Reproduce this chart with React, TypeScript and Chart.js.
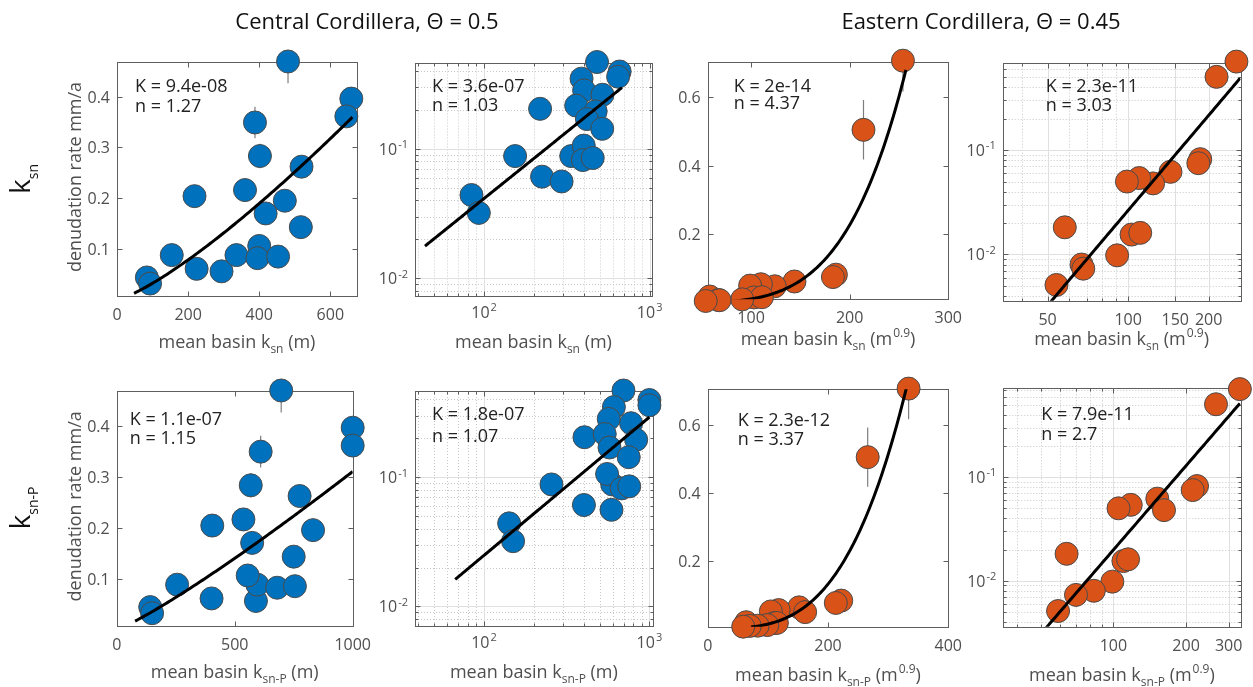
import { useEffect, useRef } from 'react';
import { Chart, registerables } from 'chart.js';

Chart.register(...registerables);

const W = 1253;
const H = 687;
const FONT = '"Open Sans", "Noto Sans", "DejaVu Sans", sans-serif';

// ---- Central Cordillera basins: denudation rate (mm/a) and mean basin steepness ----
const centralRate = [0.469, 0.396, 0.361, 0.349, 0.283, 0.262, 0.204, 0.216, 0.195, 0.17, 0.143, 0.088, 0.061, 0.056, 0.088, 0.106, 0.082, 0.085, 0.044, 0.032];
const centralRateErr = [0.043, 0.012, 0.012, 0.031, 0.024, 0.012, 0.01, 0.014, 0.012, 0.01, 0.01, 0.006, 0.005, 0.004, 0.006, 0.008, 0.006, 0.006, 0.003, 0.003];
const centralKsn = [481, 659, 645, 388, 402, 519, 218, 360, 472, 418, 517, 154, 224, 294, 336, 400, 395, 453, 84, 93];
const centralKsnP = [697, 1000, 1000, 610, 568, 775, 405, 537, 832, 574, 750, 256, 402, 590, 596, 555, 680, 755, 142, 150];

// ---- Eastern Cordillera basins ----
const eastRate = [0.707, 0.505, 0.082, 0.075, 0.062, 0.048, 0.054, 0.05, 0.0155, 0.0161, 0.0182, 0.0098, 0.008, 0.0073, 0.0051];
const eastRateErr = [0.09, 0.087, 0.006, 0.006, 0.005, 0.004, 0.004, 0.004, 0.0012, 0.0013, 0.0015, 0.0008, 0.0006, 0.0006, 0.0004];
const eastKsn = [254, 214, 186, 183, 144, 124, 110, 99, 103, 111, 58, 91, 67, 68, 54];
const eastKsnP = [334, 266, 222, 213, 152, 162, 118, 105, 110, 115, 64, 99, 83, 70, 59];

// ---- power-law fits E = K * ksn^n (E in m/a), one per panel ----
const fitK = [9.4e-8, 3.6e-7, 2e-14, 2.3e-11, 1.1e-7, 1.8e-7, 2.3e-12, 7.9e-11];
const fitN = [1.27, 1.03, 4.37, 3.03, 1.15, 1.07, 3.37, 2.7];
const fitExtent = [[48, 662], [44, 680], [76, 257], [48, 262], [78, 1000], [67, 1000], [72, 330], [50, 334]];

// ---- tick values ----
const ksnTicksCentral = [0, 200, 400, 600];
const ksnPTicksCentral = [0, 500, 1000];
const rateTicksCentral = [0.1, 0.2, 0.3, 0.4];
const decadeTicksX = [100, 1000];
const decadeTicksY = [0.01, 0.1];
const ksnTicksEast = [100, 200, 300];
const ksnPTicksEast = [0, 200, 400];
const rateTicksEast = [0.2, 0.4, 0.6];
const ksnLogTicksEast = [50, 100, 150, 200];
const ksnPLogTicksEast = [100, 200, 300];

const columnTitles = ['Central Cordillera, \u0398 = 0.5', 'Eastern Cordillera, \u0398 = 0.45'];

type Seg = { t: string; k?: 'sub' | 'sup' };

const BLUE = '#0072BD';
const ORANGE = '#D95319';

const titleCentralKsn: Seg[] = [{ t: 'mean basin k' }, { t: 'sn', k: 'sub' }, { t: ' (m)' }];
const titleCentralKsnP: Seg[] = [{ t: 'mean basin k' }, { t: 'sn-P', k: 'sub' }, { t: ' (m)' }];
const titleEastKsn: Seg[] = [{ t: 'mean basin k' }, { t: 'sn', k: 'sub' }, { t: ' (m' }, { t: '0.9', k: 'sup' }, { t: ')' }];
const titleEastKsnP: Seg[] = [{ t: 'mean basin k' }, { t: 'sn-P', k: 'sub' }, { t: ' (m' }, { t: '0.9', k: 'sup' }, { t: ')' }];

interface PanelSpec {
  xs: number[];
  ys: number[];
  errs: number[];
  fill: string;
  K: number;
  n: number;
  fit: number[];
  log: boolean;
  xRange: number[];
  yRange: number[];
  xTicks: number[];
  yTicks: number[];
  xPow: boolean;
  yPow: boolean;
  area: number[];
  note: number[];
  xTitle: Seg[];
  xTitleBase: number;
  yTitle?: string;
  rowLabel?: Seg[];
  rowLabelY?: number;
}

const panels: PanelSpec[] = [
  {
    xs: centralKsn, ys: centralRate, errs: centralRateErr, fill: BLUE, K: fitK[0], n: fitN[0], fit: fitExtent[0],
    log: false, xRange: [0, 675], yRange: [0.0075, 0.468], xTicks: ksnTicksCentral, yTicks: rateTicksCentral,
    xPow: false, yPow: false, area: [117, 62, 357, 296], note: [18, 25, 45], xTitle: titleCentralKsn, xTitleBase: 348,
    yTitle: 'denudation rate mm/a', rowLabel: [{ t: 'k' }, { t: 'sn', k: 'sub' }], rowLabelY: 179,
  },
  {
    xs: centralKsn, ys: centralRate, errs: centralRateErr, fill: BLUE, K: fitK[1], n: fitN[1], fit: fitExtent[1],
    log: true, xRange: [38.3, 1033], yRange: [0.0073, 0.465], xTicks: decadeTicksX, yTicks: decadeTicksY,
    xPow: true, yPow: true, area: [415, 62.5, 652, 296], note: [17, 24, 43], xTitle: titleCentralKsn, xTitleBase: 348,
  },
  {
    xs: eastKsn, ys: eastRate, errs: eastRateErr, fill: ORANGE, K: fitK[2], n: fitN[2], fit: fitExtent[2],
    log: false, xRange: [56, 300], yRange: [0.01, 0.704], xTicks: ksnTicksEast, yTicks: rateTicksEast,
    xPow: false, yPow: false, area: [707.7, 61.7, 948.3, 299.3], note: [26, 25, 42], xTitle: titleEastKsn, xTitleBase: 345,
  },
  {
    xs: eastKsn, ys: eastRate, errs: eastRateErr, fill: ORANGE, K: fitK[3], n: fitN[3], fit: fitExtent[3],
    log: true, xRange: [34, 263], yRange: [0.0036, 0.69], xTicks: ksnLogTicksEast, yTicks: decadeTicksY,
    xPow: false, yPow: true, area: [1002.7, 62.7, 1244, 300.7], note: [43, 24, 43], xTitle: titleEastKsn, xTitleBase: 345,
  },
  {
    xs: centralKsnP, ys: centralRate, errs: centralRateErr, fill: BLUE, K: fitK[4], n: fitN[4], fit: fitExtent[4],
    log: false, xRange: [0, 1000], yRange: [0.0075, 0.468], xTicks: ksnPTicksCentral, yTicks: rateTicksCentral,
    xPow: false, yPow: false, area: [116.7, 391, 352.7, 625.7], note: [13, 29, 48], xTitle: titleCentralKsnP, xTitleBase: 678,
    yTitle: 'denudation rate mm/a', rowLabel: [{ t: 'k' }, { t: 'sn-P', k: 'sub' }], rowLabelY: 508,
  },
  {
    xs: centralKsnP, ys: centralRate, errs: centralRateErr, fill: BLUE, K: fitK[5], n: fitN[5], fit: fitExtent[5],
    log: true, xRange: [38.3, 1047], yRange: [0.0071, 0.465], xTicks: decadeTicksX, yTicks: decadeTicksY,
    xPow: true, yPow: true, area: [415, 391, 652.7, 625.7], note: [17, 24, 46], xTitle: titleCentralKsnP, xTitleBase: 678,
  },
  {
    xs: eastKsnP, ys: eastRate, errs: eastRateErr, fill: ORANGE, K: fitK[6], n: fitN[6], fit: fitExtent[6],
    log: false, xRange: [0, 400], yRange: [0.005, 0.705], xTicks: ksnPTicksEast, yTicks: rateTicksEast,
    xPow: false, yPow: false, area: [707.7, 389.3, 948.3, 626.7], note: [30, 32, 51], xTitle: titleEastKsnP, xTitleBase: 681,
  },
  {
    xs: eastKsnP, ys: eastRate, errs: eastRateErr, fill: ORANGE, K: fitK[7], n: fitN[7], fit: fitExtent[7],
    log: true, xRange: [35, 336], yRange: [0.0036, 0.72], xTicks: ksnPLogTicksEast, yTicks: decadeTicksY,
    xPow: false, yPow: true, area: [1003.3, 388.3, 1243.3, 626.7], note: [38, 27, 47], xTitle: titleEastKsnP, xTitleBase: 681,
  },
];

// MATLAB-style exponent formatting, e.g. 9.4e-08
function fmtK(k: number): string {
  return k.toExponential().replace(/e([+-])(\d)$/, (_m, s, d) => `e${s}0${d}`);
}

function fitCurve(K: number, n: number, ext: number[], log: boolean) {
  const pts: { x: number; y: number }[] = [];
  const steps = 100;
  for (let i = 0; i <= steps; i++) {
    const t = i / steps;
    const x = log ? ext[0] * Math.pow(ext[1] / ext[0], t) : ext[0] + (ext[1] - ext[0]) * t;
    pts.push({ x, y: K * Math.pow(x, n) * 1000 });
  }
  return pts;
}

function logSteps(range: number[]): number[] {
  const out: number[] = [];
  const e0 = Math.floor(Math.log10(range[0]));
  const e1 = Math.ceil(Math.log10(range[1]));
  for (let e = e0; e <= e1; e++) {
    for (let m = 1; m <= 9; m++) {
      const v = m * Math.pow(10, e);
      if (v > range[0] && v < range[1]) out.push(v);
    }
  }
  return out;
}

const isTick = (ticks: number[], v: number) => ticks.some((t) => Math.abs(t - v) / v < 1e-9);

function segSize(size: number, k: Seg['k'], scale: number) {
  return k ? Math.round(size * scale) : size;
}

function richWidth(ctx: CanvasRenderingContext2D, segs: Seg[], size: number, scale: number) {
  let w = 0;
  for (const s of segs) {
    ctx.font = `${segSize(size, s.k, scale)}px ${FONT}`;
    w += ctx.measureText(s.t).width + (s.k === 'sup' ? 1 : 0);
  }
  return w;
}

function drawRich(
  ctx: CanvasRenderingContext2D,
  segs: Seg[],
  x: number,
  y: number,
  size: number,
  align: 'left' | 'center' | 'right',
  scale = 0.68,
) {
  const w = richWidth(ctx, segs, size, scale);
  let cx = align === 'center' ? x - w / 2 : align === 'right' ? x - w : x;
  ctx.textAlign = 'left';
  ctx.textBaseline = 'alphabetic';
  for (const s of segs) {
    ctx.font = `${segSize(size, s.k, scale)}px ${FONT}`;
    if (s.k === 'sup') cx += 1;
    const dy = s.k === 'sub' ? size * 0.3 : s.k === 'sup' ? -size * 0.42 : 0;
    ctx.fillText(s.t, cx, y + dy);
    cx += ctx.measureText(s.t).width;
  }
}

const powSegs = (v: number): Seg[] => [{ t: '10' }, { t: String(Math.round(Math.log10(v))), k: 'sup' }];

function decorPlugin(p: PanelSpec) {
  return {
    id: 'panelDecor',
    beforeDatasetsDraw(chart: Chart) {
      const ctx = chart.ctx;
      const a = chart.chartArea;
      const sx = chart.scales.x;
      const sy = chart.scales.y;
      const snap = (v: number) => Math.round(v) + 0.5;

      ctx.save();
      ctx.beginPath();
      ctx.rect(a.left, a.top, a.right - a.left, a.bottom - a.top);
      ctx.clip();

      if (p.log) {
        ctx.lineWidth = 1;
        ctx.strokeStyle = '#c8c8c8';
        ctx.setLineDash([1, 2]);
        ctx.beginPath();
        for (const v of logSteps(p.xRange)) {
          if (isTick(p.xTicks, v)) continue;
          const px = snap(sx.getPixelForValue(v));
          ctx.moveTo(px, a.top);
          ctx.lineTo(px, a.bottom);
        }
        for (const v of logSteps(p.yRange)) {
          if (isTick(p.yTicks, v)) continue;
          const py = snap(sy.getPixelForValue(v));
          ctx.moveTo(a.left, py);
          ctx.lineTo(a.right, py);
        }
        ctx.stroke();
        ctx.setLineDash([]);
        ctx.strokeStyle = '#e0e0e0';
        ctx.beginPath();
        for (const v of p.xTicks) {
          const px = snap(sx.getPixelForValue(v));
          ctx.moveTo(px, a.top);
          ctx.lineTo(px, a.bottom);
        }
        for (const v of p.yTicks) {
          const py = snap(sy.getPixelForValue(v));
          ctx.moveTo(a.left, py);
          ctx.lineTo(a.right, py);
        }
        ctx.stroke();
      }

      // vertical error bars on the denudation rates
      ctx.strokeStyle = '#7d7d7d';
      ctx.lineWidth = 1.2;
      ctx.beginPath();
      p.xs.forEach((x, i) => {
        const px = sx.getPixelForValue(x);
        const lo = Math.max(p.ys[i] - p.errs[i], p.yRange[0] * 0.5);
        ctx.moveTo(px, sy.getPixelForValue(lo));
        ctx.lineTo(px, sy.getPixelForValue(p.ys[i] + p.errs[i]));
      });
      ctx.stroke();
      ctx.restore();

      // axes box with inward ticks on all four sides
      ctx.save();
      ctx.strokeStyle = '#5e5e5e';
      ctx.lineWidth = 1;
      const L = snap(a.left);
      const R = snap(a.right);
      const T = snap(a.top);
      const B = snap(a.bottom);
      ctx.strokeRect(L, T, R - L, B - T);
      ctx.beginPath();
      const xTick = (v: number, len: number) => {
        const px = snap(sx.getPixelForValue(v));
        ctx.moveTo(px, B);
        ctx.lineTo(px, B - len);
        ctx.moveTo(px, T);
        ctx.lineTo(px, T + len);
      };
      const yTick = (v: number, len: number) => {
        const py = snap(sy.getPixelForValue(v));
        ctx.moveTo(L, py);
        ctx.lineTo(L + len, py);
        ctx.moveTo(R, py);
        ctx.lineTo(R - len, py);
      };
      p.xTicks.forEach((v) => xTick(v, 5));
      p.yTicks.forEach((v) => yTick(v, 5));
      if (p.log) {
        logSteps(p.xRange).forEach((v) => xTick(v, 3));
        logSteps(p.yRange).forEach((v) => yTick(v, 3));
      }
      ctx.stroke();
      ctx.restore();
    },
    afterDatasetsDraw(chart: Chart) {
      const ctx = chart.ctx;
      const a = chart.chartArea;
      const sx = chart.scales.x;
      const sy = chart.scales.y;
      ctx.save();

      // tick labels
      ctx.fillStyle = '#4f4f4f';
      for (const v of p.xTicks) {
        const px = sx.getPixelForValue(v);
        if (p.xPow) drawRich(ctx, powSegs(v), px, a.bottom + 22, 16, 'center');
        else drawRich(ctx, [{ t: String(v) }], px, a.bottom + 24, 16, 'center');
      }
      for (const v of p.yTicks) {
        const py = sy.getPixelForValue(v);
        drawRich(ctx, p.yPow ? powSegs(v) : [{ t: String(v) }], a.left - 7, py + 6, 16, 'right');
      }

      // axis titles
      ctx.fillStyle = '#4f4f4f';
      drawRich(ctx, p.xTitle, (a.left + a.right) / 2, p.xTitleBase, 18, 'center', 0.66);
      if (p.yTitle) {
        ctx.save();
        ctx.translate(81, (a.top + a.bottom) / 2 - 2);
        ctx.rotate(-Math.PI / 2);
        drawRich(ctx, [{ t: p.yTitle }], 0, 0, 18, 'center');
        ctx.restore();
      }
      if (p.rowLabel && p.rowLabelY !== undefined) {
        ctx.save();
        ctx.fillStyle = '#111';
        ctx.translate(30, p.rowLabelY);
        ctx.rotate(-Math.PI / 2);
        drawRich(ctx, p.rowLabel, 0, 0, 28, 'center', 0.5);
        ctx.restore();
      }

      // fit parameters
      ctx.fillStyle = '#222';
      ctx.font = `18px ${FONT}`;
      ctx.textAlign = 'left';
      ctx.textBaseline = 'middle';
      ctx.fillText(`K = ${fmtK(p.K)}`, a.left + p.note[0], a.top + p.note[1]);
      ctx.fillText(`n = ${p.n}`, a.left + p.note[0], a.top + p.note[2]);
      ctx.restore();
    },
  };
}

function buildConfig(p: PanelSpec): any {
  const scaleType = p.log ? 'logarithmic' : 'linear';
  return {
    type: 'scatter',
    data: {
      datasets: [
        {
          label: 'fit',
          data: fitCurve(p.K, p.n, p.fit, p.log),
          showLine: true,
          borderColor: '#000',
          borderWidth: 3,
          pointRadius: 0,
          tension: 0,
          fill: false,
          order: 0,
        },
        {
          label: 'basins',
          data: p.xs.map((x, i) => ({ x, y: p.ys[i] })),
          pointRadius: 11.5,
          pointBackgroundColor: p.fill,
          backgroundColor: p.fill,
          pointBorderColor: '#4a4a4a',
          borderColor: '#4a4a4a',
          pointBorderWidth: 1,
          clip: false,
          order: 1,
        },
      ],
    },
    options: {
      animation: false,
      responsive: false,
      devicePixelRatio: 1,
      events: [],
      layout: {
        padding: { left: p.area[0], top: p.area[1], right: W - p.area[2], bottom: H - p.area[3] },
      },
      plugins: { legend: { display: false }, tooltip: { enabled: false } },
      scales: {
        x: { type: scaleType, min: p.xRange[0], max: p.xRange[1], display: false },
        y: { type: scaleType, min: p.yRange[0], max: p.yRange[1], display: false },
      },
    },
    plugins: [decorPlugin(p)],
  };
}

export default function App() {
  const refs = useRef<(HTMLCanvasElement | null)[]>([]);

  useEffect(() => {
    const charts = panels.map((p, i) => new Chart(refs.current[i] as HTMLCanvasElement, buildConfig(p)));
    return () => charts.forEach((c) => c.destroy());
  }, []);

  return (
    <div style={{ position: 'absolute', left: 0, top: 0, width: W, height: H, background: '#fff', overflow: 'hidden' }}>
      {panels.map((_, i) => (
        <canvas
          key={i}
          ref={(el) => {
            refs.current[i] = el;
          }}
          width={W}
          height={H}
          style={{ position: 'absolute', left: 0, top: 0, width: W, height: H }}
        />
      ))}
      {columnTitles.map((t, i) => (
        <div
          key={t}
          style={{
            position: 'absolute',
            left: i === 0 ? 367 : 981,
            top: 5,
            transform: 'translateX(-50%)',
            font: `22px ${FONT}`,
            lineHeight: '30px',
            whiteSpace: 'nowrap',
            color: '#111',
          }}
        >
          {t}
        </div>
      ))}
    </div>
  );
}
